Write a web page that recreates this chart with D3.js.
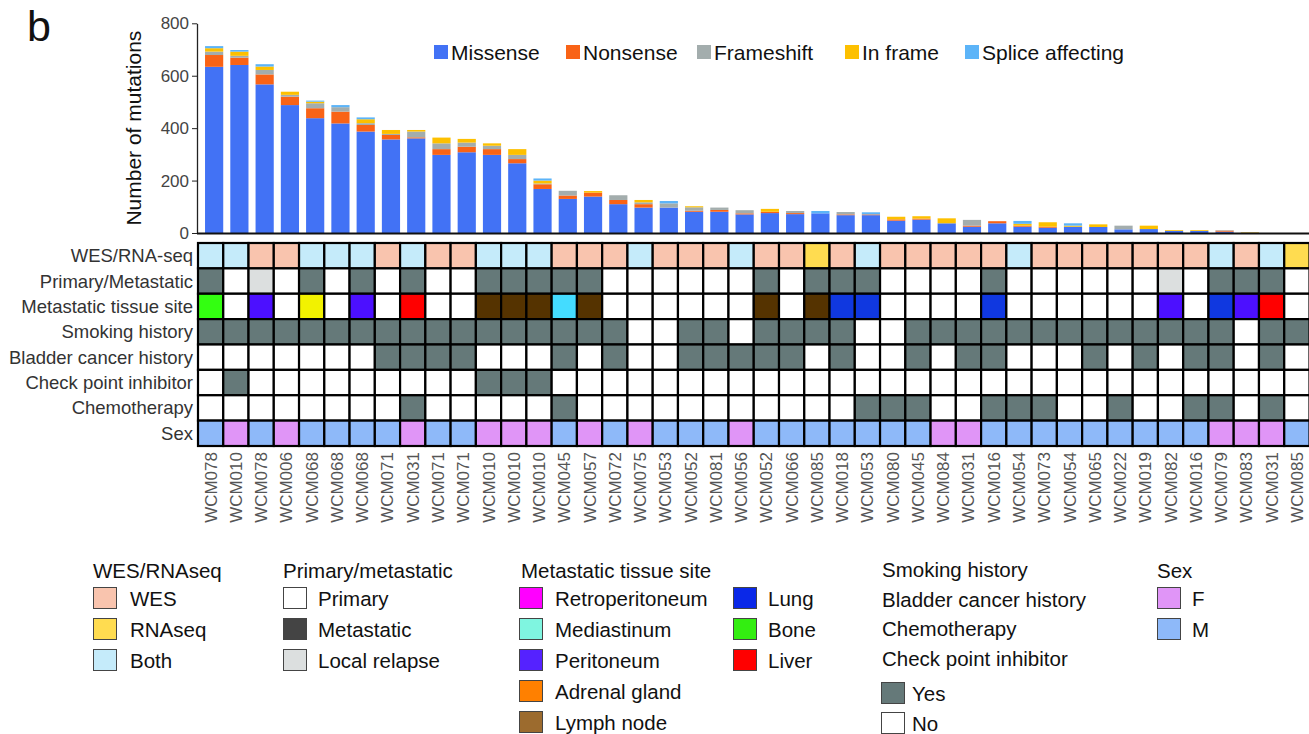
<!DOCTYPE html>
<html>
<head>
<meta charset="utf-8">
<script src="https://cdn.jsdelivr.net/npm/d3@7"></script>
<style>
  body { margin: 0; background: #fff; }
  text { font-family: "Liberation Sans", Arial, sans-serif; }
</style>
</head>
<body>
<script>
// sample ids along the x axis
const samples = ["WCM078","WCM010","WCM078","WCM006","WCM068","WCM068","WCM068","WCM071","WCM031","WCM071",
  "WCM071","WCM010","WCM010","WCM010","WCM045","WCM057","WCM072","WCM075","WCM053","WCM052",
  "WCM081","WCM056","WCM052","WCM066","WCM085","WCM018","WCM053","WCM080","WCM045","WCM084",
  "WCM031","WCM016","WCM054","WCM073","WCM054","WCM065","WCM022","WCM019","WCM082","WCM016",
  "WCM079","WCM083","WCM031","WCM085"];

// mutation counts per sample
const mutTypes = ["Missense","Nonsense","Frameshift","In frame","Splice affecting"];
const missense   = [634,641,567,488,438,418,387,357,361,298, 308,298,266,168,130,139,110,97,97,81, 81,71,76,72,75,68,68,47,51,37, 24,37,24,20,24,23,14,15,8,8, 5,1,0,0];
const nonsense   = [45,28,38,32,38,45,25,17,4,22, 21,22,16,18,13,15,16,13,0,4, 7,4,5,4,0,3,3,5,4,0, 4,8,4,4,0,0,0,0,0,0, 4,0,0,0];
const frameshift = [13,7,17,7,19,17,7,4,22,22, 16,13,16,3,18,0,18,7,16,13, 9,12,0,8,0,9,0,0,0,0, 22,0,0,0,0,0,14,0,0,0, 2,0,0,0];
const inframe    = [13,16,13,12,6,0,15,15,6,22, 14,9,22,11,0,6,0,9,0,4, 0,0,11,0,0,0,0,10,9,19, 0,0,7,17,4,10,0,13,3,3, 0,2,0,0];
const splice     = [8,6,9,0,4,8,7,0,0,0, 0,0,0,8,0,0,0,0,9,0, 0,0,0,0,9,0,8,0,0,0, 0,0,11,0,9,0,0,0,0,0, 0,0,0,0];
const yTicks = [0, 200, 400, 600, 800];

// clinical annotation rows
const rowNames = ["WES/RNA-seq","Primary/Metastatic","Metastatic tissue site","Smoking history",
  "Bladder cancer history","Check point inhibitor","Chemotherapy","Sex"];
const seqType = ["Both","Both","WES","WES","Both","Both","Both","WES","Both","WES",
  "WES","Both","Both","Both","WES","WES","WES","Both","WES","WES",
  "WES","Both","WES","WES","RNAseq","WES","Both","WES","WES","WES",
  "WES","WES","Both","WES","WES","WES","WES","WES","WES","WES",
  "Both","WES","Both","RNAseq"];
const tumorType = ["Metastatic","Primary","Local relapse","Primary","Metastatic","Primary","Metastatic","Primary","Metastatic","Primary",
  "Primary","Metastatic","Metastatic","Metastatic","Metastatic","Metastatic","Primary","Primary","Primary","Primary",
  "Primary","Primary","Metastatic","Primary","Metastatic","Metastatic","Metastatic","Primary","Primary","Primary",
  "Primary","Metastatic","Primary","Primary","Primary","Primary","Primary","Primary","Local relapse","Primary",
  "Metastatic","Metastatic","Metastatic","Primary"];
const site = ["Bone","","Peritoneum","","Other","","Peritoneum","","Liver","",
  "","Lymph node","Lymph node","Lymph node","Mediastinum","Lymph node","","","","",
  "","","Lymph node","","Lymph node","Lung","Lung","","","",
  "","Lung","","","","","","","Peritoneum","",
  "Lung","Peritoneum","Liver",""];
const smoking  = [1,1,1,1,1,1,1,1,1,1, 1,1,1,1,1,1,1,0,0,1, 1,0,1,1,1,1,0,0,1,1, 1,1,1,1,1,1,1,1,1,1, 1,0,1,1];
const bladder  = [0,0,0,0,0,0,0,1,1,1, 1,0,0,0,1,0,1,0,0,1, 1,1,1,1,0,1,0,0,1,0, 1,1,0,0,0,1,0,1,0,1, 1,0,1,0];
const cpi      = [0,1,0,0,0,0,0,0,0,0, 0,1,1,1,0,0,0,0,0,0, 0,0,0,0,0,0,0,0,0,0, 0,0,0,0,0,0,0,0,0,0, 0,0,0,0];
const chemo    = [0,0,0,0,0,0,0,0,1,0, 0,0,0,0,1,0,0,0,0,0, 0,0,0,0,0,0,1,1,1,0, 0,1,1,1,0,0,1,0,0,1, 1,0,1,0];
const sex = ["M","F","M","F","M","M","M","M","F","M", "M","F","F","F","M","F","M","F","M","M",
  "M","F","M","M","M","M","M","M","M","F", "F","M","M","M","M","M","M","M","M","M", "F","F","F","M"];

// legend entries
const seqLegend = ["WES","RNAseq","Both"];
const tumorLegend = ["Primary","Metastatic","Local relapse"];
const siteLegend1 = ["Retroperitoneum","Mediastinum","Peritoneum","Adrenal gland","Lymph node"];
const siteLegend2 = ["Lung","Bone","Liver"];
const yesNoTitles = ["Smoking history","Bladder cancer history","Chemotherapy","Check point inhibitor"];
const sexLegend = ["F","M"];

// colours
const mutColor = d3.scaleOrdinal().domain(mutTypes).range(["#4272f5","#f96316","#a3adad","#fdc000","#5cb4f8"]);
const seqColor = {"WES":"#f9c4ae","RNAseq":"#ffdc50","Both":"#c5ebfa"};
const tumorCell = {"Primary":"#ffffff","Metastatic":"#657979","Local relapse":"#dcdfdf"};
const tumorSwatch = {"Primary":"#ffffff","Metastatic":"#444444","Local relapse":"#dcdfdf"};
const siteCell = {"":"#ffffff","Bone":"#33ff11","Peritoneum":"#4c10ff","Other":"#f2f200","Liver":"#ff0000",
  "Lymph node":"#553300","Mediastinum":"#44dcff","Lung":"#1038e0","Retroperitoneum":"#ff00ff","Adrenal gland":"#ff8000"};
const siteSwatch = {"Retroperitoneum":"#ff00ff","Mediastinum":"#7ff5e0","Peritoneum":"#5522ff","Adrenal gland":"#ff8000",
  "Lymph node":"#9c6b2e","Lung":"#0a28e8","Bone":"#33ee11","Liver":"#ff0000"};
const yesNo = ["#ffffff","#657979"];
const sexColor = {"F":"#e095f7","M":"#8eb9f9"};

const W = 1309, H = 734;
const svg = d3.select("body").append("svg").attr("width", W).attr("height", H);

// ---------- bar chart ----------
const table = samples.map((s, i) => ({
  idx: i,
  "Missense": missense[i], "Nonsense": nonsense[i], "Frameshift": frameshift[i],
  "In frame": inframe[i], "Splice affecting": splice[i]
}));
const stacked = d3.stack().keys(mutTypes)(table);

const xBar = d3.scaleBand().domain(d3.range(samples.length)).range([201.5, 1313]).paddingInner(0.28).paddingOuter(0.14);
const y = d3.scaleLinear().domain([0, 800]).range([233, 23.3]);

svg.append("g").selectAll("g")
  .data(stacked)
  .join("g")
  .attr("fill", d => mutColor(d.key))
  .selectAll("rect")
  .data(d => d)
  .join("rect")
  .attr("x", d => xBar(d.data.idx))
  .attr("width", xBar.bandwidth())
  .attr("y", d => y(d[1]))
  .attr("height", d => y(d[0]) - y(d[1]));

const yAxis = svg.append("g")
  .attr("transform", "translate(197,0)")
  .call(d3.axisLeft(y).tickValues(yTicks).tickSize(5).tickSizeOuter(0).tickPadding(3));
yAxis.select(".domain").attr("stroke", "#222").attr("stroke-width", 1.3);
yAxis.selectAll(".tick line").attr("stroke", "#222");
yAxis.selectAll(".tick text").attr("font-size", 17).attr("fill", "#444")
  .style("font-family", "'Liberation Sans', Arial, sans-serif");

svg.append("line")
  .attr("x1", 197).attr("x2", W).attr("y1", y(0) + 0.5).attr("y2", y(0) + 0.5)
  .attr("stroke", "#111").attr("stroke-width", 2.2);

svg.append("text")
  .attr("transform", "translate(141," + (y(0) + y(800)) / 2 + ") rotate(-90)")
  .attr("text-anchor", "middle")
  .attr("font-size", 21)
  .attr("fill", "#111")
  .text("Number of mutations");

svg.append("text")
  .attr("x", 27).attr("y", 41)
  .attr("font-size", 43)
  .attr("fill", "#111")
  .text("b");

// top legend
const topLegX = [434, 566, 697, 845, 965];
const topLeg = svg.append("g").selectAll("g")
  .data(mutTypes)
  .join("g")
  .attr("transform", (d, i) => "translate(" + topLegX[i] + ",45)");
topLeg.append("rect").attr("width", 14).attr("height", 14).attr("fill", d => mutColor(d));
topLeg.append("text").attr("x", 17).attr("y", 14.5).attr("font-size", 21).attr("fill", "#111").text(d => d);

// ---------- annotation heatmap ----------
const x = d3.scaleBand().domain(d3.range(samples.length)).range([198, 1309.5]);
const row = d3.scaleBand().domain(rowNames).range([243, 446]);

const rowFill = [
  i => seqColor[seqType[i]],
  i => tumorCell[tumorType[i]],
  i => siteCell[site[i]],
  i => yesNo[smoking[i]],
  i => yesNo[bladder[i]],
  i => yesNo[cpi[i]],
  i => yesNo[chemo[i]],
  i => sexColor[sex[i]]
];

const cells = [];
rowNames.forEach((r, k) => samples.forEach((s, i) => cells.push({ r: r, i: i, fill: rowFill[k](i) })));

svg.append("g").selectAll("rect")
  .data(cells)
  .join("rect")
  .attr("x", d => x(d.i))
  .attr("y", d => row(d.r))
  .attr("width", x.bandwidth())
  .attr("height", row.bandwidth())
  .attr("fill", d => d.fill)
  .attr("stroke", "#000")
  .attr("stroke-width", 2.2);

svg.append("g").selectAll("text")
  .data(rowNames)
  .join("text")
  .attr("x", 193)
  .attr("y", d => row(d) + row.bandwidth() / 2 + 6.5)
  .attr("text-anchor", "end")
  .attr("font-size", 18.5)
  .attr("fill", "#333")
  .text(d => d);

svg.append("g").selectAll("text")
  .data(samples)
  .join("text")
  .attr("transform", (d, i) => "translate(" + (x(i) + x.bandwidth() / 2 + 6) + ",452) rotate(-90)")
  .attr("text-anchor", "end")
  .attr("font-size", 17)
  .attr("fill", "#555")
  .text(d => d);

// ---------- bottom legends ----------
const legTitleY = 578, legRow0 = 587, legStep = 31, swW = 23, swH = 21;

function legendBlock(title, tx, sx, labels, colors, textDx, startRow) {
  const g = svg.append("g");
  if (title) {
    g.append("text").attr("x", tx).attr("y", legTitleY).attr("font-size", 20.5).attr("fill", "#111").text(title);
  }
  const it = g.selectAll("g.item")
    .data(labels)
    .join("g")
    .attr("class", "item")
    .attr("transform", (d, i) => "translate(" + sx + "," + (legRow0 + (i + startRow) * legStep) + ")");
  it.append("rect")
    .attr("x", 0.5).attr("y", 0.5)
    .attr("width", swW).attr("height", swH)
    .attr("fill", d => colors[d])
    .attr("stroke", "#444").attr("stroke-width", 1);
  it.append("text")
    .attr("x", textDx).attr("y", swH / 2 + 8)
    .attr("font-size", 20.5).attr("fill", "#111")
    .text(d => d);
}

legendBlock("WES/RNAseq", 93, 93, seqLegend, seqColor, 37, 0);
legendBlock("Primary/metastatic", 283, 283, tumorLegend, tumorSwatch, 35, 0);
legendBlock("Metastatic tissue site", 521, 519, siteLegend1, siteSwatch, 36, 0);
legendBlock(null, 0, 733, siteLegend2, siteSwatch, 35, 0);
legendBlock("Sex", 1157, 1157, sexLegend, sexColor, 35, 0);

svg.append("g").selectAll("text")
  .data(yesNoTitles)
  .join("text")
  .attr("x", 882)
  .attr("y", (d, i) => 577 + i * 29.5)
  .attr("font-size", 20.5)
  .attr("fill", "#111")
  .text(d => d);

const ynLeg = svg.append("g").selectAll("g")
  .data(["Yes", "No"])
  .join("g")
  .attr("transform", (d, i) => "translate(881," + (682 + i * 30) + ")");
ynLeg.append("rect")
  .attr("x", 0.5).attr("y", 0.5).attr("width", swW).attr("height", swH)
  .attr("fill", d => d === "Yes" ? yesNo[1] : yesNo[0])
  .attr("stroke", "#444");
ynLeg.append("text")
  .attr("x", 31).attr("y", swH / 2 + 8)
  .attr("font-size", 20.5).attr("fill", "#111")
  .text(d => d);
</script>
</body>
</html>
